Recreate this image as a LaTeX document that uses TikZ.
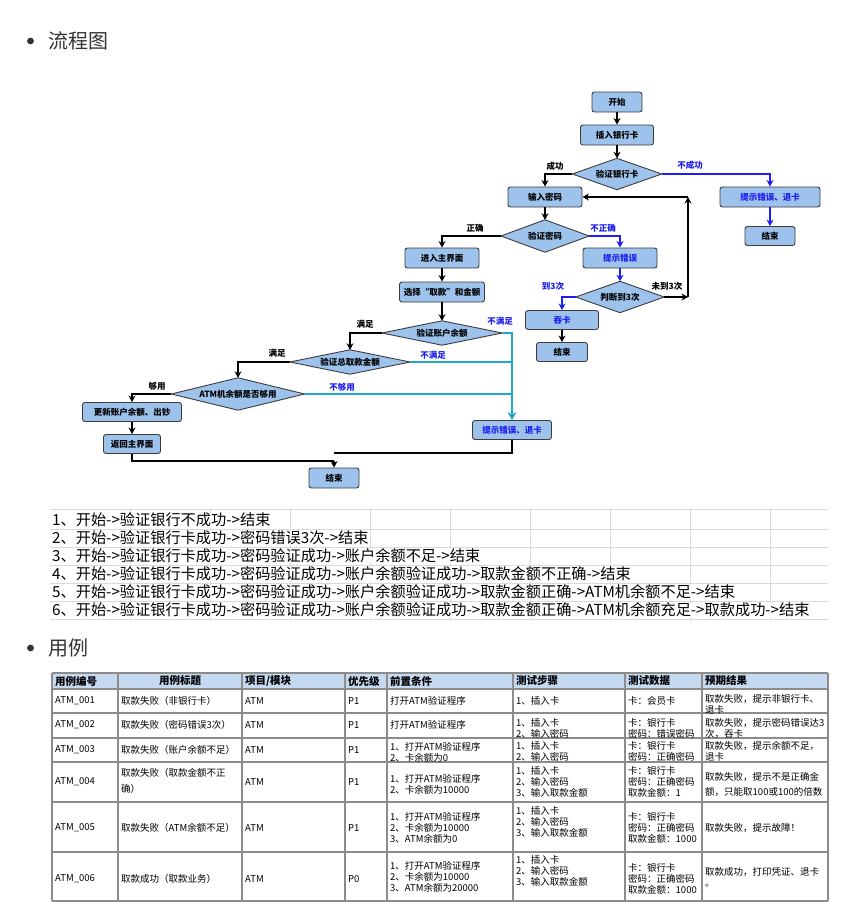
\documentclass[tikz,border=0pt]{standalone}
\usepackage{fontspec}
\setmainfont{Noto Sans CJK SC}
\usetikzlibrary{arrows.meta,backgrounds,calc}
\definecolor{boxfill}{HTML}{9DC3EC}
\definecolor{boxline}{HTML}{3C3C3C}
\definecolor{fblue}{HTML}{1E1EF0}
\definecolor{fcyan}{HTML}{1FA8C8}
\definecolor{gridc}{HTML}{DADADA}
\definecolor{tline}{HTML}{8C8C8C}
\definecolor{thead}{HTML}{C5D9F1}
\definecolor{darktxt}{HTML}{333333}
\newcommand\ffont{\fontsize{8.5}{10}\selectfont\bfseries}
\newcommand\mydiam[6]{%
  \node[dtext, minimum width=#4, minimum height=#5] (#1) at (#2,#3) {#6};
  \begin{scope}[on background layer]
    \draw[dshape] (#1.north) -- (#1.east) -- (#1.south) -- (#1.west) -- cycle;
  \end{scope}}
\tikzset{
  x=1pt, y=-1pt,
  box/.style={draw=boxline, fill=boxfill, rounded corners=2.5pt, line width=0.9pt, inner sep=0pt, font=\ffont},
  dtext/.style={inner sep=0pt, font=\ffont},
  dshape/.style={draw=boxline, fill=boxfill, line width=0.9pt},
  blk/.style={line width=2.1pt, black, -{Stealth[length=6.5pt,width=7pt]}},
  blkline/.style={line width=2.1pt, black},
  blu/.style={line width=1.9pt, fblue, -{Stealth[length=6.5pt,width=7pt]}},
  cyn/.style={line width=2.3pt, fcyan},
  cyna/.style={line width=2.3pt, fcyan, -{Stealth[length=8pt,width=9pt]}},
  lbl/.style={font=\ffont, inner sep=0pt},
  lblb/.style={font=\ffont, inner sep=0pt, text=fblue},
  rowtxt/.style={font=\fontsize{15.2}{17}\selectfont, inner sep=0pt, fill=white, anchor=west},
  cell/.style={font=\fontsize{9.5}{11}\selectfont, inner sep=0pt, anchor=west, align=left},
  cellw/.style={font=\fontsize{9.5}{15.5}\selectfont, inner sep=0pt, anchor=west, align=left},
  hcell/.style={font=\fontsize{10.5}{12}\selectfont\bfseries, inner sep=0pt, anchor=west},
}
\begin{document}
\begin{tikzpicture}
\useasboundingbox (0,0) rectangle (863,921);

% ---- headings ----
\fill[darktxt] (30.5,41) circle (3.4pt);
\node[font=\fontsize{20}{22}\selectfont, text=darktxt, anchor=west, inner sep=0pt] (hd1) at (48,41) {流程图};
\fill[darktxt] (30.5,648) circle (3.4pt);
\node[font=\fontsize{20}{22}\selectfont, text=darktxt, anchor=west, inner sep=0pt] (hd2) at (48,648) {用例};

% ---- flowchart nodes ----
\node[box, minimum width=50, minimum height=20] (start) at (617,102) {开始};
\node[box, minimum width=73, minimum height=20] (ins) at (617,135) {插入银行卡};
\mydiam{vcard}{617}{174}{89}{31}{验证银行卡}
\node[box, minimum width=74, minimum height=20] (pwd) at (545,197) {输入密码};
\node[box, minimum width=100, minimum height=20, text=fblue] (err1) at (770,197) {提示错误、退卡};
\node[box, minimum width=50, minimum height=19] (end1) at (770,236) {结束};
\mydiam{vpwd}{545}{236}{88}{32}{验证密码}
\node[box, minimum width=74, minimum height=20] (main) at (442,258) {进入主界面};
\node[box, minimum width=74, minimum height=20, text=fblue] (err2) at (620,258) {提示错误};
\node[box, minimum width=85, minimum height=20] (sel) at (442,292) {选择“取款”和金额};
\mydiam{judge}{620}{297}{88}{31}{判断到3次}
\node[box, minimum width=73, minimum height=19, text=fblue] (swallow) at (562,320) {吞卡};
\node[box, minimum width=51, minimum height=19] (end2) at (562,352) {结束};
\mydiam{vbal}{442}{333}{120}{24}{验证账户余额}
\mydiam{vtot}{350}{362}{120}{24}{验证总取款金额}
\mydiam{atm}{238}{394}{133}{32}{ATM机余额是否够用}
\node[box, minimum width=99, minimum height=19] (upd) at (132,412) {更新账户余额、出钞};
\node[box, minimum width=57, minimum height=19] (back) at (132,444) {返回主界面};
\node[box, minimum width=50, minimum height=20] (end3) at (334,478) {结束};
\node[box, minimum width=79, minimum height=19, text=fblue] (err3) at (512,430) {提示错误、退卡};

\coordinate (c1) at (688,297);
\coordinate (c2) at (688,197);
\coordinate (j1) at (334,461);
\coordinate (j2) at (334,453);

% ---- connectors ----
\draw[blk] (start) -- (ins);
\draw[blk] (ins) -- (vcard);
\draw[blk] (vcard.west) -| (pwd.north);
\draw[blu] (vcard.east) -| (err1.north);
\draw[blu] (err1) -- (end1);
\draw[blk] (pwd) -- (vpwd);
\draw[blu] (vpwd.east) -| (err2.north);
\draw[blk] (vpwd.west) -| (main.north);
\draw[blu] (err2) -- (judge);
\draw[blk] (judge.east) -- (c1);
\draw[blk] (c1) -- (c2);
\draw[blk] (c2) -- (pwd.east);
\draw[blu] (judge.west) -| (swallow.north);
\draw[blk] (swallow) -- (end2);
\draw[blk] (main) -- (sel);
\draw[blk] (sel) -- (vbal);
\draw[blk] (vbal.west) -| (vtot.north);
\draw[blk] (vtot.west) -| (atm.north);
\draw[blk] (atm.west) -| (upd.north);
\draw[blk] (upd) -- (back);
\draw[blkline] (back.south) |- (j1);
\draw[blk] (j1) -- (end3.north);
\draw[blkline] (err3.south) |- (j2);
\draw[cyn] (vtot.east) -- (vtot.east -| err3.north);
\draw[cyn] (atm.east) -- (atm.east -| err3.north);
\draw[cyna] (vbal.east) -| (err3.north);

% ---- labels ----
\node[lbl] (l1) at (555,166) {成功};
\node[lblb] (l2) at (690,165) {不成功};
\node[lblb] (l3) at (603,228) {不正确};
\node[lbl] (l4) at (475,228) {正确};
\node[lblb] (l5) at (553,286) {到3次};
\node[lbl] (l6) at (667,286) {未到3次};
\node[lblb] (l7) at (500,321) {不满足};
\node[lbl] (l8) at (365,324) {满足};
\node[lblb] (l9) at (433,355) {不满足};
\node[lbl] (l10) at (277,353) {满足};
\node[lblb] (l11) at (342,387) {不够用};
\node[lbl] (l12) at (157,386) {够用};

% ---- path list with grid ----
\foreach \yy in {509,529,547,565,583,601,619} \draw[gridc, line width=0.8pt] (50,\yy) -- (828,\yy);
\foreach \xx in {130,210,...,770} \draw[gridc, line width=0.8pt] (\xx,509) -- (\xx,619);
\node[rowtxt] (p1) at (52,520) {1、开始->验证银行不成功->结束};
\node[rowtxt] (p2) at (52,538) {2、开始->验证银行卡成功->密码错误3次->结束};
\node[rowtxt] (p3) at (52,556) {3、开始->验证银行卡成功->密码验证成功->账户余额不足->结束};
\node[rowtxt] (p4) at (52,574) {4、开始->验证银行卡成功->密码验证成功->账户余额验证成功->取款金额不正确->结束};
\node[rowtxt] (p5) at (52,592) {5、开始->验证银行卡成功->密码验证成功->账户余额验证成功->取款金额正确->ATM机余额不足->结束};
\node[rowtxt] (p6) at (52,610) {6、开始->验证银行卡成功->密码验证成功->账户余额验证成功->取款金额正确->ATM机余额充足->取款成功->结束};

% ---- table ----
\fill[thead] (52,673) rectangle (828,689);
\foreach \yy in {673,689,713,738,762,802,852,901} \draw[tline, line width=1.1pt] (52,\yy) -- (828,\yy);
\foreach \xx in {52,118,242,345,387,513,625,702,828} \draw[tline, line width=1.1pt] (\xx,673) -- (\xx,901);

\node[hcell] (h1) at (55,681) {用例编号};
\node[hcell, anchor=center] (h2) at (180,681) {用例标题};
\node[hcell] (h3) at (245,681) {项目/模块};
\node[hcell] (h4) at (348,681) {优先级};
\node[hcell] (h5) at (390,681) {前置条件};
\node[hcell] (h6) at (516,681) {测试步骤};
\node[hcell] (h7) at (628,681) {测试数据};
\node[hcell] (h8) at (705,681) {预期结果};

\node[cell] (a1) at (55,701) {ATM\_001};
\node[cell] (b1) at (121,701) {取款失败（非银行卡）};
\node[cell] (c1t) at (245,701) {ATM};
\node[cell] (d1) at (348,701) {P1};
\node[cell] (e1) at (390,701) {打开ATM验证程序};
\node[cell] (f1) at (516,701) {1、插入卡};
\node[cell] (g1) at (628,701) {卡：会员卡};
\node[cell] (r1) at (705,704) {取款失败，提示非银行卡、\\退卡};

\node[cell] (a2) at (55,725) {ATM\_002};
\node[cell] (b2) at (121,725) {取款失败（密码错误3次）};
\node[cell] (c2t) at (245,725) {ATM};
\node[cell] (d2) at (348,725) {P1};
\node[cell] (e2) at (390,725) {打开ATM验证程序};
\node[cell] (f2) at (516,728) {1、插入卡\\2、输入密码};
\node[cell] (g2) at (628,728) {卡：银行卡\\密码：错误密码};
\node[cell] (r2) at (705,728) {取款失败，提示密码错误达3\\次，吞卡};

\node[cell] (a3) at (55,750) {ATM\_003};
\node[cell] (b3) at (121,750) {取款失败（账户余额不足）};
\node[cell] (c3t) at (245,750) {ATM};
\node[cell] (d3) at (348,750) {P1};
\node[cell] (e3) at (390,752) {1、打开ATM验证程序\\2、卡余额为0};
\node[cell] (f3) at (516,751.5) {1、插入卡\\2、输入密码};
\node[cell] (g3) at (628,751.5) {卡：银行卡\\密码：正确密码};
\node[cell] (r3) at (705,751) {取款失败，提示余额不足，\\退卡};

\node[cell] (a4) at (55,782) {ATM\_004};
\node[cellw] (b4) at (121,781) {取款失败（取款金额不正\\确）};
\node[cell] (c4t) at (245,782) {ATM};
\node[cell] (d4) at (348,782) {P1};
\node[cell] (e4) at (390,784.5) {1、打开ATM验证程序\\2、卡余额为10000};
\node[cell] (f4) at (516,782) {1、插入卡\\2、输入密码\\3、输入取款金额};
\node[cell] (g4) at (628,782) {卡：银行卡\\密码：正确密码\\取款金额：1};
\node[cellw] (r4) at (705,784.5) {取款失败，提示不是正确金\\额，只能取100或100的倍数};

\node[cell] (a5) at (55,828) {ATM\_005};
\node[cell] (b5) at (121,828) {取款失败（ATM余额不足）};
\node[cell] (c5t) at (245,828) {ATM};
\node[cell] (d5) at (348,828) {P1};
\node[cell] (e5) at (390,828) {1、打开ATM验证程序\\2、卡余额为10000\\3、ATM余额为0};
\node[cell] (f5) at (516,821.5) {1、插入卡\\2、输入密码\\3、输入取款金额};
\node[cell] (g5) at (628,827.5) {卡：银行卡\\密码：正确密码\\取款金额：1000};
\node[cell] (r5) at (705,828) {取款失败，提示故障！};

\node[cell] (a6) at (55,879) {ATM\_006};
\node[cell] (b6) at (121,879) {取款成功（取款业务）};
\node[cell] (c6t) at (245,879) {ATM};
\node[cell] (d6) at (348,879) {P0};
\node[cell] (e6) at (390,877) {1、打开ATM验证程序\\2、卡余额为10000\\3、ATM余额为20000};
\node[cell] (f6) at (516,871) {1、插入卡\\2、输入密码\\3、输入取款金额};
\node[cell] (g6) at (628,879) {卡：银行卡\\密码：正确密码\\取款金额：1000};
\node[cell] (r6) at (705,877.5) {取款成功，打印凭证、退卡\\。};
\end{tikzpicture}
\end{document}
